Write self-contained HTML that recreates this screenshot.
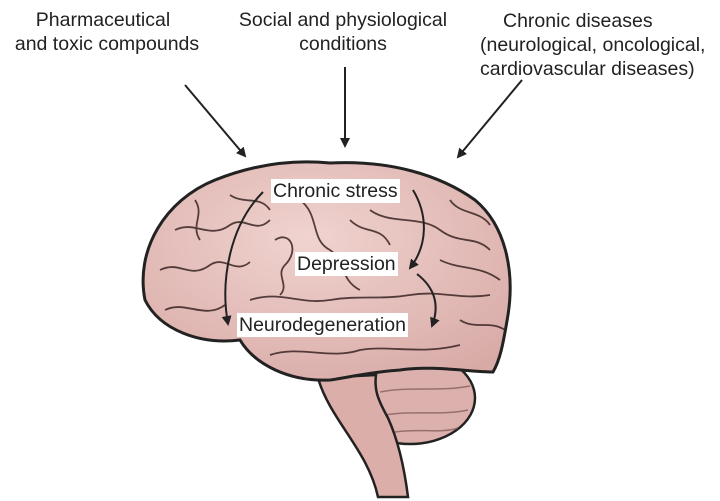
<!DOCTYPE html>
<html><head><style>
html,body{margin:0;padding:0;background:#fff;}
body{width:720px;height:501px;overflow:hidden;position:relative;font-family:"Liberation Sans",sans-serif;}
.t{position:absolute;font-size:19.5px;color:#222;line-height:24px;white-space:nowrap;}
.c{position:absolute;font-size:19.5px;color:#222;line-height:23px;white-space:nowrap;text-align:center;width:300px;}
.b{background:#fff;padding:0 2px;font-size:19.5px;line-height:24px;}
</style></head><body>
<svg width="720" height="501" style="position:absolute;left:0;top:0">
<defs>
<marker id="a" markerWidth="10" markerHeight="10" refX="8" refY="5" orient="auto" markerUnits="userSpaceOnUse"><path d="M0,0 L10,5 L0,10 Z" fill="#222"/></marker>
<radialGradient id="g" cx="0.45" cy="0.35" r="0.75"><stop offset="0" stop-color="#f0d3cf"/><stop offset="1" stop-color="#d8aaa6"/></radialGradient>
</defs>
<ellipse cx="410" cy="398" rx="65" ry="46" fill="#dcb0ac" stroke="#222" stroke-width="2.5"/>
<g fill="none" stroke="#7a5553" stroke-width="1.5" opacity="0.7">
<path d="M380,392 C410,386 440,392 470,386"/><path d="M385,415 C415,410 440,416 468,410"/><path d="M395,432 C420,428 440,434 458,428"/>
</g>
<path d="M318,378 C330,420 368,450 378,497 L408,497 C404,465 398,440 388,418 C378,400 374,390 376,375 Z" fill="#dcaeaa" stroke="#222" stroke-width="2.5"/>
<path d="M145,300 C135,250 165,200 215,180 C260,162 300,160 330,163 C390,160 440,175 475,200 C505,225 515,270 508,315 C503,345 500,360 493,372 C470,372 430,365 400,370 C370,372 345,378 330,380 C290,382 255,365 240,340 C200,345 160,330 145,300 Z" fill="url(#g)" stroke="#222" stroke-width="3"/>
<g fill="none" stroke="#3a2524" stroke-width="1.8" opacity="0.85">
<path d="M175,230 C195,220 210,240 230,225 C245,215 255,235 270,220"/>
<path d="M160,270 C180,260 190,280 210,265 C225,255 235,275 250,262"/>
<path d="M165,310 C185,300 205,320 225,305"/>
<path d="M300,200 C320,215 310,240 330,250 C345,260 340,280 360,290"/>
<path d="M250,300 C280,290 300,305 330,300 C360,295 380,300 410,295 C440,290 460,300 490,295"/>
<path d="M370,210 C390,225 420,215 440,230 C460,245 475,235 490,250"/>
<path d="M440,260 C460,270 480,265 500,280"/>
<path d="M270,355 C300,345 330,360 360,350 C390,345 420,355 460,345"/>
<path d="M460,320 C475,330 490,320 505,330"/>
<path d="M230,195 C245,205 260,195 270,210"/>
<path d="M275,240 C290,230 300,250 285,265 C275,275 290,285 280,295"/>
<path d="M350,220 C365,235 380,225 390,245"/>
<path d="M450,200 C460,215 480,210 490,225"/>
<path d="M195,200 C205,215 190,225 200,240"/>
<path d="M320,320 C340,330 360,320 380,330"/>
</g>
<g stroke="#222" stroke-width="2" fill="none">
<line x1="185" y1="85" x2="245" y2="156" marker-end="url(#a)"/>
<line x1="345" y1="67" x2="345" y2="146" marker-end="url(#a)"/>
<line x1="522" y1="80" x2="458" y2="157" marker-end="url(#a)"/>
<path d="M263,192 C230,225 220,280 228,324" marker-end="url(#a)"/>
<path d="M413,190 C428,215 428,245 410,268" marker-end="url(#a)"/>
<path d="M417,274 C435,288 440,305 432,326" marker-end="url(#a)"/>
</g>
</svg>
<div class="c" style="left:-47px;top:9px">Pharmaceutical</div>
<div class="c" style="left:-43px;top:33px">and toxic compounds</div>
<div class="c" style="left:193px;top:9px">Social and physiological</div>
<div class="c" style="left:193px;top:33px">conditions</div>
<div class="t" style="left:503px;top:9px">Chronic diseases</div>
<div class="t" style="left:480px;top:33px">(neurological, oncological,</div>
<div class="t" style="left:480px;top:57px">cardiovascular diseases)</div>
<div class="t b" style="left:271px;top:179px">Chronic stress</div>
<div class="t b" style="left:295px;top:252px">Depression</div>
<div class="t b" style="left:237px;top:313px">Neurodegeneration</div>
</body></html>
